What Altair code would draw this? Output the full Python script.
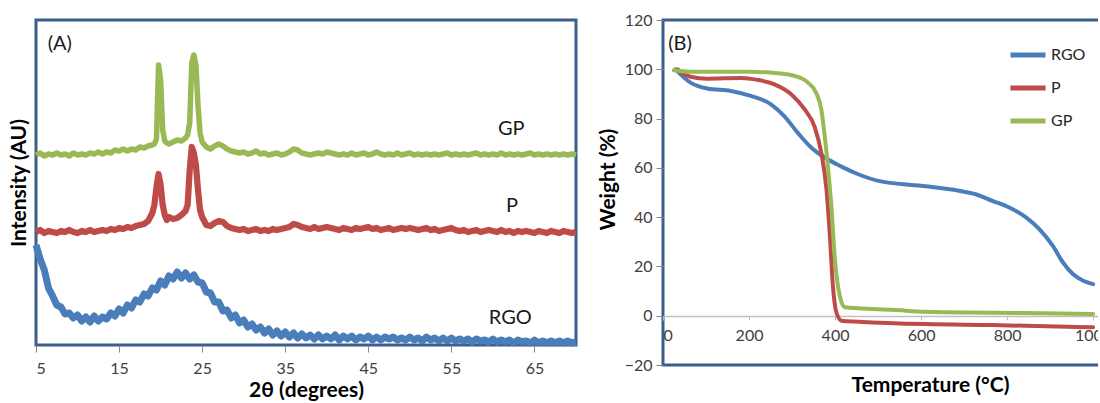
import altair as alt
import pandas as pd

# ---------------- Panel A: XRD ----------------
TWO_THETA = [round(5 + 0.5 * i, 2) for i in range(131)]

GP_Y = [190, 192, 189, 191, 190, 192, 190, 191, 189, 192,
        190, 191, 190, 192, 191, 193, 191, 193, 192, 195,
        194, 196, 194, 196, 195, 198, 197, 199, 200, 206,
        265, 204, 201, 203, 205, 204, 207, 222, 290, 240,
        203, 198, 196, 199, 201, 199, 196, 194, 193, 192,
        193, 191, 192, 194, 191, 192, 190, 191, 192, 190,
        191, 193, 196, 195, 192, 191, 190, 191, 192, 191,
        193, 192, 191, 190, 191, 190, 192, 190, 191, 192,
        190, 191, 193, 191, 190, 191, 190, 192, 190, 191,
        192, 190, 191, 190, 191, 190, 191, 190, 191, 192,
        190, 191, 190, 191, 190, 191, 192, 190, 191, 190,
        191, 190, 192, 190, 191, 190, 191, 190, 191, 192,
        190, 191, 190, 191, 190, 191, 190, 191, 190, 191,
        190]

P_Y = [113, 115, 112, 114, 113, 112, 114, 113, 115, 113,
       112, 114, 113, 115, 113, 114, 115, 114, 116, 115,
       117, 116, 118, 117, 119, 120, 121, 124, 132, 158,
       160, 130, 128, 126, 127, 130, 134, 175, 192, 155,
       128, 120, 119, 122, 124, 123, 119, 117, 116, 115,
       116, 114, 115, 116, 114, 115, 114, 116, 115, 116,
       117, 118, 121, 120, 118, 117, 116, 118, 116, 117,
       118, 117, 116, 115, 117, 116, 115, 117, 116, 117,
       118, 116, 117, 115, 116, 117, 115, 116, 117, 116,
       117, 116, 115, 116, 117, 115, 116, 114, 115, 116,
       117, 115, 114, 115, 113, 114, 115, 113, 114, 115,
       114, 113, 115, 113, 114, 112, 114, 113, 114, 113,
       112, 114, 113, 112, 114, 113, 112, 114, 113, 112,
       113]

RGO_Y = [100, 86, 75, 57, 49, 40, 38, 31, 32, 27,
         30, 24, 28, 23, 29, 24, 28, 26, 32, 29,
         36, 32, 40, 37, 45, 43, 51, 49, 57, 55,
         64, 60, 69, 66, 73, 67, 72, 66, 70, 63,
         62, 53, 52, 43, 43, 34, 35, 27, 30, 22,
         25, 18, 21, 15, 18, 12, 16, 10, 14, 9,
         13, 8, 12, 7, 11, 7, 10, 6, 10, 6,
         9, 6, 10, 5, 9, 6, 9, 5, 8, 6,
         9, 5, 8, 5, 8, 6, 8, 5, 7, 5,
         8, 5, 7, 4, 8, 5, 7, 4, 7, 4,
         7, 4, 6, 4, 6, 3, 6, 4, 5, 3,
         6, 3, 5, 3, 5, 2, 5, 3, 4, 2,
         5, 2, 4, 2, 4, 2, 4, 2, 4, 2,
         3]

PEAK_X = [19.25, 19.75, 20.25, 20.75, 23.25, 23.75, 24.25, 24.75]
GP_PEAK_Y = [201, 280, 215, 202, 210, 282, 280, 212]
P_PEAK_Y = [140, 171, 140, 125, 140, 198, 180, 135]

XRD_LABELS = ["GP", "P", "RGO"]
XRD_LABEL_X = [62.2, 62.3, 62.1]
XRD_LABEL_Y = [216, 139, 27]

# ---------------- Panel B: TGA ----------------
RGO_T = [29, 64, 103, 158, 204, 251, 282, 313, 345, 376, 415, 454, 501, 600,
         688, 727, 766, 805, 844, 875, 906, 930, 953, 977, 1000]
RGO_W = [100, 94.6, 92.2, 91.2, 89.2, 85.8, 81, 74.3, 68.2, 64.2, 60.5, 57.4,
         54.7, 52.7, 50.7, 49.3, 46.6, 43.9, 39.9, 35.1, 28.4, 21.6, 16.9, 14.2, 12.8]

P_T = [34, 64, 103, 181, 220, 259, 298, 329, 353, 368, 380, 388, 395, 403,
       415, 454, 610, 766, 1000]
P_W = [100, 97, 96.2, 96.5, 95.7, 93.9, 89.9, 83.8, 76.4, 66.2, 51.4, 32.4,
       12.2, 1.4, -2, -2.4, -3.4, -3.8, -4.7]

GP_T = [25, 64, 200, 267, 306, 337, 356, 368, 376, 384, 392, 399, 411, 423,
        454, 532, 610, 649, 844, 1000]
GP_W = [99.6, 99, 99, 98.4, 97.3, 94.6, 90.5, 83.8, 73, 59.5, 43.2, 24.3,
        8.1, 3.4, 3, 2.4, 1.6, 1.4, 1.1, 0.7]

SERIES = ["RGO", "P", "GP"]
COLORS = ["#4A7EBB", "#BE4B48", "#98B954"]
XRD_WIDTHS = [7, 5.5, 5.5]
FRAME = "#3B5E8C"

# ---------------- build tables ----------------
rows = []
for name, base, peaks in [("GP", GP_Y, GP_PEAK_Y), ("P", P_Y, P_PEAK_Y), ("RGO", RGO_Y, None)]:
    for x, y in zip(TWO_THETA, base):
        rows.append({"series": name, "theta": x, "intensity": y})
    if peaks is not None:
        for x, y in zip(PEAK_X, peaks):
            rows.append({"series": name, "theta": x, "intensity": y})
xrd = pd.DataFrame(rows).sort_values(["series", "theta"])

xrd_lab = pd.DataFrame({"label": XRD_LABELS, "theta": XRD_LABEL_X, "intensity": XRD_LABEL_Y})
panel_a = pd.DataFrame({"label": ["(A)"], "theta": [6.4], "intensity": [301]})

trows = []
for name, ts, ws in [("RGO", RGO_T, RGO_W), ("P", P_T, P_W), ("GP", GP_T, GP_W)]:
    for t, w in zip(ts, ws):
        trows.append({"series": name, "temp": t, "weight": w})
tga = pd.DataFrame(trows)
panel_b = pd.DataFrame({"label": ["(B)"], "temp": [12], "weight": [110.3]})

color_scale = alt.Scale(domain=SERIES, range=COLORS)
width_scale = alt.Scale(domain=SERIES, range=XRD_WIDTHS)
frame = alt.ViewBackground(stroke=FRAME, strokeWidth=3)

# ---------------- left chart ----------------
xa = alt.X("theta:Q", scale=alt.Scale(domain=[5, 70], nice=False),
           axis=alt.Axis(values=[5, 15, 25, 35, 45, 55, 65], title="2θ (degrees)",
                         domain=False, grid=False, tickColor="#868686", tickSize=7,
                         labelPadding=8, titlePadding=3))
ya = alt.Y("intensity:Q", scale=alt.Scale(domain=[0, 325], nice=False),
           axis=alt.Axis(title="Intensity (AU)", labels=False, ticks=False,
                         domain=False, grid=False, titlePadding=7, titleFontSize=21))

left_lines = alt.Chart(xrd).mark_line(strokeJoin="round").encode(
    x=xa, y=ya,
    color=alt.Color("series:N", scale=color_scale, legend=None),
    strokeWidth=alt.StrokeWidth("series:N", scale=width_scale, legend=None),
)
left_labels = alt.Chart(xrd_lab).mark_text(fontSize=20, color="#1a1a1a", font="Lato").encode(
    x="theta:Q", y="intensity:Q", text="label:N")
left_panel = alt.Chart(panel_a).mark_text(fontSize=20, color="#1a1a1a", font="Lato", align="left").encode(
    x="theta:Q", y="intensity:Q", text="label:N")

left = alt.layer(left_lines, left_labels, left_panel).properties(width=540, height=325, view=frame)

# ---------------- right chart ----------------
xb = alt.X("temp:Q", scale=alt.Scale(domain=[0, 1030], nice=False),
           axis=alt.Axis(values=[0, 200, 400, 600, 800, 1000], offset=-49, format="d",
                         domainColor="#C0C0C0", domainWidth=1.5, tickColor="#C0C0C0",
                         tickSize=4, labelPadding=7, grid=False,
                         title="Temperature (°C)", titleX=267, titleY=58))
yb = alt.Y("weight:Q", scale=alt.Scale(domain=[-20, 120], nice=False),
           axis=alt.Axis(values=[-20, 0, 20, 40, 60, 80, 100, 120], domain=False, grid=False,
                         tickColor="#868686", tickSize=7, labelPadding=4,
                         title="Weight (%)", titlePadding=6, titleY=159))

right_lines = alt.Chart(tga).mark_line(strokeWidth=4, interpolate="monotone",
                                       strokeCap="round").encode(
    x=xb, y=yb,
    color=alt.Color("series:N", scale=color_scale,
                    legend=alt.Legend(title=None, orient="none", legendX=345, legendY=15,
                                      symbolType="stroke", symbolSize=1225,
                                      symbolStrokeWidth=5, labelFontSize=16,
                                      labelColor="#262626", labelFont="Lato",
                                      labelOffset=3, rowPadding=3)),
)
right_panel = alt.Chart(panel_b).mark_text(fontSize=20, color="#1a1a1a", font="Lato", align="left").encode(
    x="temp:Q", y="weight:Q", text="label:N")

right = alt.layer(right_lines, right_panel).properties(width=443, height=345, view=frame)

chart = (
    alt.hconcat(left, right, spacing=87, bounds="flush")
    .resolve_scale(color="independent")
    .properties(padding={"left": 6, "top": 10, "right": -16, "bottom": -1}, background="white")
    .configure_view(stroke=FRAME, strokeWidth=3)
    .configure_axis(labelFont="Lato", labelFontSize=16, labelColor="#404040",
                    titleFont="Lato", titleFontSize=21, titleFontWeight="bold",
                    titleColor="#000000")
)

chart.save("out.html", embed_options={"renderer": "svg", "actions": False})
